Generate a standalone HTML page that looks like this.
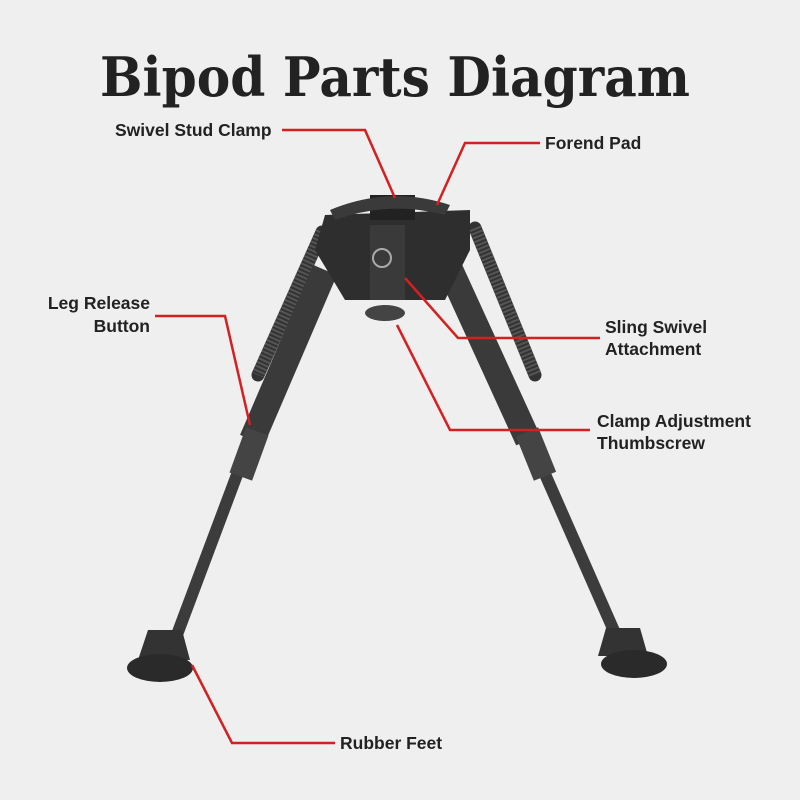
<!DOCTYPE html>
<html><head><meta charset="utf-8"><style>
html,body{margin:0;padding:0;background:#efefef;}
svg{display:block}
.t{font-family:"Liberation Sans",sans-serif;font-weight:bold;font-size:17.5px;fill:#222}
</style></head><body>
<svg width="800" height="800" viewBox="0 0 800 800">
<rect width="800" height="800" fill="#efefef"/>
<text x="100" y="96" textLength="590" lengthAdjust="spacingAndGlyphs" font-family="DejaVu Serif,serif" font-weight="bold" font-size="54" fill="#222">Bipod Parts Diagram</text>
<!-- springs -->
<line x1="322" y1="232" x2="258" y2="375" stroke="#333" stroke-width="13" stroke-linecap="round"/>
<line x1="322" y1="232" x2="258" y2="375" stroke="#555" stroke-width="13" stroke-dasharray="2 2"/>
<line x1="475" y1="228" x2="535" y2="375" stroke="#333" stroke-width="13" stroke-linecap="round"/>
<line x1="475" y1="228" x2="535" y2="375" stroke="#555" stroke-width="13" stroke-dasharray="2 2"/>
<!-- upper legs -->
<line x1="325" y1="270" x2="252" y2="440" stroke="#3a3a3a" stroke-width="26"/>
<line x1="448" y1="265" x2="528" y2="440" stroke="#3a3a3a" stroke-width="26"/>
<!-- lower legs -->
<line x1="250" y1="440" x2="175" y2="640" stroke="#3c3c3c" stroke-width="12"/>
<line x1="530" y1="440" x2="618" y2="640" stroke="#3c3c3c" stroke-width="12"/>
<rect x="237" y="430" width="24" height="48" fill="#444" transform="rotate(20 249 454)"/>
<rect x="524" y="430" width="24" height="48" fill="#444" transform="rotate(-22 536 454)"/>
<!-- feet -->
<path d="M148 630 L182 630 L190 660 L138 660 Z" fill="#333"/>
<ellipse cx="160" cy="668" rx="33" ry="14" fill="#2a2a2a"/>
<path d="M606 628 L640 628 L648 656 L598 656 Z" fill="#333"/>
<ellipse cx="634" cy="664" rx="33" ry="14" fill="#2a2a2a"/>
<!-- head -->
<path d="M325 215 L470 210 L470 250 L445 300 L345 300 L315 250 Z" fill="#2e2e2e"/>
<rect x="370" y="195" width="45" height="25" fill="#222"/>
<path d="M330 210 Q390 185 450 205 L445 215 Q390 200 335 220 Z" fill="#3a3a3a"/>
<rect x="370" y="225" width="35" height="75" fill="#3a3a3a"/>
<ellipse cx="385" cy="313" rx="20" ry="8" fill="#444"/>
<circle cx="382" cy="258" r="9" fill="none" stroke="#aaa" stroke-width="2"/>
<!-- red lines -->
<g stroke="#d42020" stroke-width="2.5" fill="none">
<polyline points="282,130 365,130 395,198"/>
<polyline points="540,143 465,143 437,205"/>
<polyline points="155,316 225,316 250,425"/>
<polyline points="600,338 458,338 405,278"/>
<polyline points="590,430 450,430 397,325"/>
<polyline points="335,743 232,743 192,665"/>
</g>
<text class="t" x="115" y="136">Swivel Stud Clamp</text>
<text class="t" x="545" y="149">Forend Pad</text>
<text class="t" x="150" y="309" text-anchor="end">Leg Release</text>
<text class="t" x="150" y="332" text-anchor="end">Button</text>
<text class="t" x="605" y="333">Sling Swivel</text>
<text class="t" x="605" y="355">Attachment</text>
<text class="t" x="597" y="427">Clamp Adjustment</text>
<text class="t" x="597" y="449">Thumbscrew</text>
<text class="t" x="340" y="749">Rubber Feet</text>
</svg>
</body></html>
